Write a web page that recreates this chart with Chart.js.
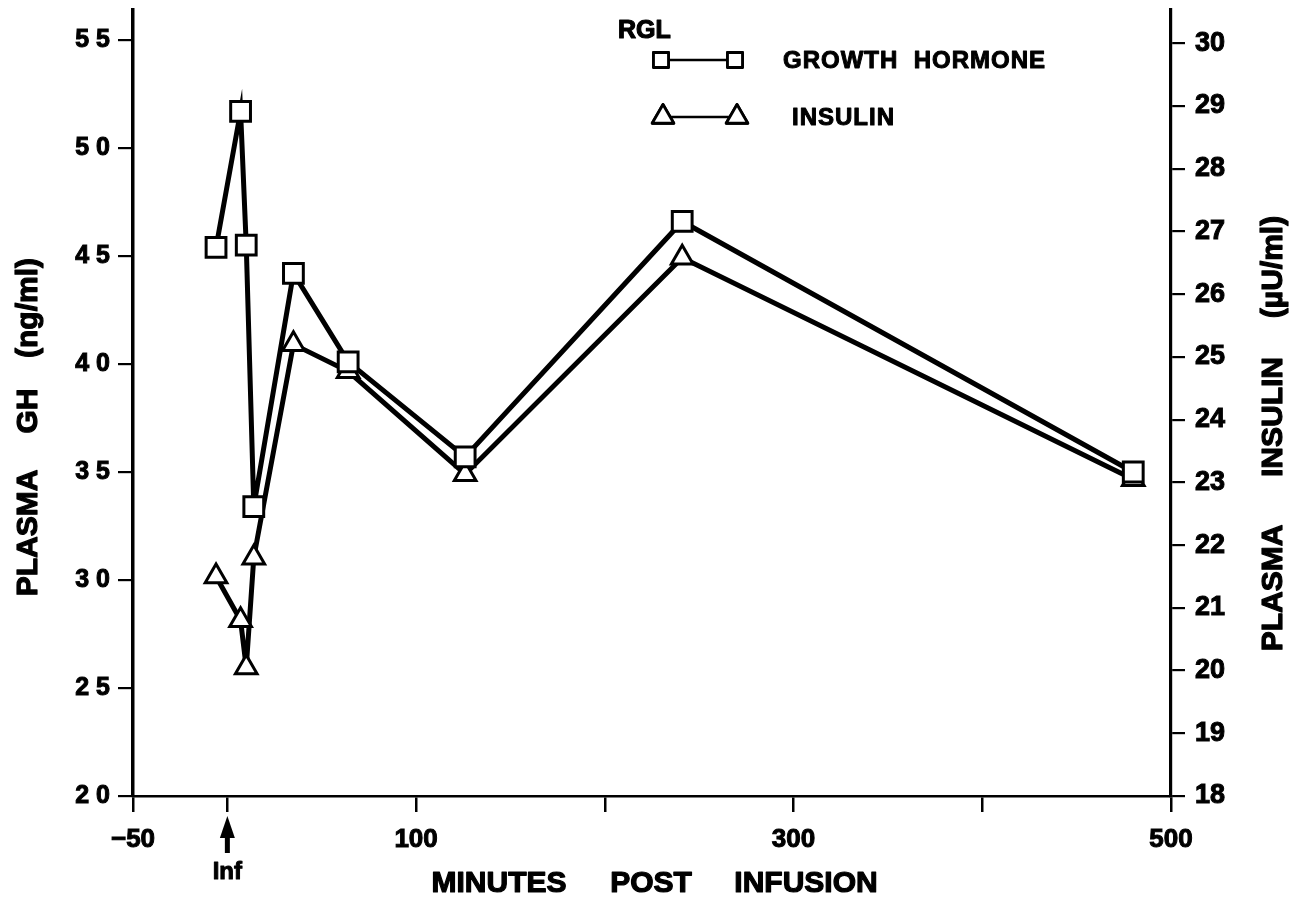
<!DOCTYPE html>
<html>
<head>
<meta charset="utf-8">
<script src="https://cdn.jsdelivr.net/npm/chart.js@4.4.1/dist/chart.umd.min.js"></script>
<style>
  html, body { margin: 0; padding: 0; background: #fff; }
  #wrap { width: 1290px; height: 903px; position: relative; }
</style>
</head>
<body>
<div id="wrap"><canvas id="c"></canvas></div>
<script>
// Sampling times (minutes after the infusion) and the two measured series
const minutes = [-6, 7, 10, 14, 35, 64, 126, 241, 480];
const growthHormone = [45.4, 51.7, 45.5, 33.4, 44.2, 40.1, 35.7, 46.6, 35.0];   // ng/ml
const insulin = [21.5, 20.8, 20.05, 21.8, 25.2, 24.77, 23.13, 26.58, 23.05];    // µU/ml

// Axis ticks and their labels
const xTickValues = [-50, 0, 100, 200, 300, 400, 500];
const xTickLabels = ['\u221250', '', '100', '', '300', '', '500'];
const ghTicks = [20, 25, 30, 35, 40, 45, 50, 55];
const insulinTicks = [18, 19, 20, 21, 22, 23, 24, 25, 26, 27, 28, 29, 30];

const FONT = '"Liberation Sans", Arial, Helvetica, sans-serif';
const BLACK = '#000';

const toPoints = (xs, ys) => xs.map((x, i) => ({ x: x, y: ys[i] }));

// heavy lettering: fill plus a thin outline of the same colour
function heavyText(ctx, text, x, y, stroke) {
  ctx.lineWidth = stroke;
  ctx.lineJoin = 'round';
  ctx.strokeText(text, x, y);
  ctx.fillText(text, x, y);
}

// Axis titles, legend and the infusion marker
const figureText = {
  id: 'figureText',
  afterDraw(chart) {
    const ctx = chart.ctx;
    ctx.save();
    ctx.fillStyle = BLACK;
    ctx.strokeStyle = BLACK;

    const upright = (text, xBase, yCenter, size) => {
      ctx.save();
      ctx.translate(xBase, yCenter);
      ctx.rotate(-Math.PI / 2);
      ctx.font = 'bold ' + size + 'px ' + FONT;
      ctx.textAlign = 'center';
      ctx.textBaseline = 'alphabetic';
      heavyText(ctx, text, 0, 0, 1.2);
      ctx.restore();
    };
    // left axis title
    upright('PLASMA', 37, 533, 30);
    upright('GH', 37, 411, 30);
    upright('(ng/ml)', 37, 308, 30);
    // right axis title
    upright('PLASMA', 1282, 588, 30);
    upright('INSULIN', 1282, 417, 30);
    upright('(\u00B5U/ml)', 1282, 267, 30);

    // x axis title
    ctx.font = 'bold 30px ' + FONT;
    ctx.textAlign = 'center';
    ctx.textBaseline = 'middle';
    heavyText(ctx, 'MINUTES', 499, 884, 1.2);
    heavyText(ctx, 'POST', 651, 884, 1.2);
    heavyText(ctx, 'INFUSION', 806, 884, 1.2);

    // infusion arrow at time zero
    const xs = chart.scales.x.getPixelForValue(0);
    ctx.fillRect(xs - 2.5, 832, 5, 21);
    ctx.beginPath();
    ctx.moveTo(xs, 816);
    ctx.lineTo(xs - 7.5, 838);
    ctx.lineTo(xs + 7.5, 838);
    ctx.closePath();
    ctx.fill();
    ctx.font = 'bold 24px ' + FONT;
    heavyText(ctx, 'Inf', xs, 872, 1);

    // legend
    ctx.font = 'bold 25px ' + FONT;
    ctx.textAlign = 'left';
    heavyText(ctx, 'RGL', 618, 31, 1.2);

    const entries = [
      { label: 'GROWTH  HORMONE', style: 'rect', radius: 10.6, y: 60, x0: 661, x1: 735, tx: 783 },
      { label: 'INSULIN', style: 'triangle', radius: 12.5, y: 117, x0: 663, x1: 737, tx: 792 }
    ];
    entries.forEach(e => {
      ctx.strokeStyle = BLACK;
      ctx.lineWidth = 2.5;
      ctx.beginPath();
      ctx.moveTo(e.x0, e.y);
      ctx.lineTo(e.x1, e.y);
      ctx.stroke();
      [e.x0, e.x1].forEach(px => {
        ctx.fillStyle = '#fff';
        ctx.lineWidth = 2.8;
        Chart.helpers.drawPoint(ctx, { pointStyle: e.style, radius: e.radius, rotation: 0, borderWidth: 2.8 }, px, e.y);
        ctx.fill();
        ctx.stroke();
      });
      ctx.fillStyle = BLACK;
      ctx.font = 'bold 24px ' + FONT;
      ctx.letterSpacing = '1px';
      ctx.textBaseline = 'middle';
      heavyText(ctx, e.label, e.tx, e.y + 1, 1);
      ctx.letterSpacing = '0px';
    });
    ctx.restore();
  }
};

// keep the plot frame fixed: no extra room for labels that sit off the edges
const noEdgePadding = s => { s.paddingTop = 0; s.paddingBottom = 0; s.paddingLeft = 0; s.paddingRight = 0; };

new Chart(document.getElementById('c'), {
  type: 'line',
  data: {
    datasets: [
      {
        label: 'GROWTH HORMONE',
        data: toPoints(minutes, growthHormone),
        yAxisID: 'y',
        borderColor: BLACK,
        borderWidth: 5,
        pointStyle: 'rect',
        pointRadius: 14,
        pointBorderWidth: 3,
        pointBackgroundColor: '#fff',
        pointBorderColor: BLACK,
        tension: 0
      },
      {
        label: 'INSULIN',
        data: toPoints(minutes, insulin),
        yAxisID: 'y2',
        borderColor: BLACK,
        borderWidth: 5,
        pointStyle: 'triangle',
        pointRadius: 12.5,
        pointBorderWidth: 3,
        pointBackgroundColor: '#fff',
        pointBorderColor: BLACK,
        tension: 0
      }
    ]
  },
  options: {
    responsive: true,
    maintainAspectRatio: false,
    animation: false,
    events: [],
    layout: { autoPadding: false, padding: { top: 10, left: 0, right: 0, bottom: 0 } },
    plugins: { legend: { display: false }, tooltip: { enabled: false } },
    scales: {
      x: {
        type: 'linear',
        position: 'bottom',
        min: -50,
        max: 500,
        afterBuildTicks: s => { s.ticks = xTickValues.map(v => ({ value: v })); },
        afterFit: s => { s.height = 107; noEdgePadding(s); },
        ticks: {
          autoSkip: false,
          maxRotation: 0,
          padding: 12,
          color: BLACK,
          textStrokeColor: BLACK,
          textStrokeWidth: 1,
          font: { family: FONT, size: 26, weight: 'bold' },
          callback: v => xTickLabels[xTickValues.indexOf(v)]
        },
        grid: { drawOnChartArea: false, drawTicks: true, tickLength: 16, color: BLACK, lineWidth: 2.5 },
        border: { display: true, color: BLACK, width: 2.5 }
      },
      y: {
        type: 'linear',
        position: 'left',
        min: 20,
        max: 56.39,
        afterBuildTicks: s => { s.ticks = ghTicks.map(v => ({ value: v })); },
        afterFit: s => { s.width = 133; noEdgePadding(s); },
        ticks: {
          padding: 8,
          color: BLACK,
          textStrokeColor: BLACK,
          textStrokeWidth: 1,
          font: { family: FONT, size: 25, weight: 'bold' },
          callback: v => String(v).split('').join(' ')
        },
        grid: { drawOnChartArea: false, drawTicks: true, tickLength: 15, color: BLACK, lineWidth: 2.2 },
        border: { display: true, color: BLACK, width: 3.5 }
      },
      y2: {
        type: 'linear',
        position: 'right',
        min: 18,
        max: 30.53,
        afterBuildTicks: s => { s.ticks = insulinTicks.map(v => ({ value: v })); },
        afterFit: s => { s.width = 119; noEdgePadding(s); },
        ticks: {
          padding: 10,
          color: BLACK,
          textStrokeColor: BLACK,
          textStrokeWidth: 1,
          font: { family: FONT, size: 27, weight: 'bold' },
          callback: v => String(v)
        },
        grid: { drawOnChartArea: false, drawTicks: true, tickLength: 14, color: BLACK, lineWidth: 2.2 },
        border: { display: true, color: BLACK, width: 3.2 }
      }
    }
  },
  plugins: [figureText]
});
</script>
</body>
</html>
